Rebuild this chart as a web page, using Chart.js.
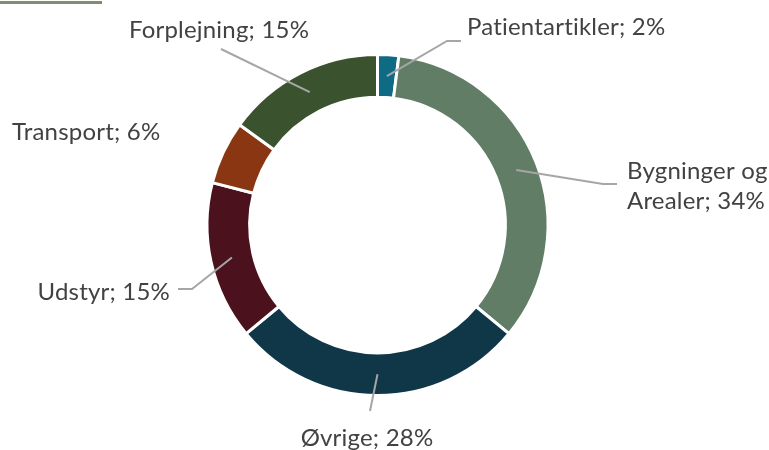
<!DOCTYPE html>
<html>
<head>
<meta charset="utf-8">
<script src="https://cdn.jsdelivr.net/npm/chart.js@4"></script>
<style>
  html, body { margin: 0; padding: 0; background: #fff; }
  #wrap { position: relative; width: 769px; height: 450px; }
  #topRule { position: absolute; left: 0; top: 1px; width: 102px; height: 3px; background: #7f8e6e; }
</style>
</head>
<body>
<div id="wrap">
  <div id="topRule"></div>
  <canvas id="costChart" width="769" height="450"></canvas>
</div>
<script>
const categories = ['Patientartikler', 'Bygninger og Arealer', 'Øvrige', 'Udstyr', 'Transport', 'Forplejning'];
const shares = [2, 34, 28, 15, 6, 15];
const sliceColors = ['#0f6a83', '#617d66', '#0f3748', '#4b121d', '#8a3613', '#3a532e'];

// where each label sits and the bend points of its leader line (the slice end is taken from the arc)
const labelSpots = [
  { x: 467, y: 27, align: 'left', leader: [[461, 41], [447, 41]] },
  { x: 627, y: 171, align: 'left', breakAfter: 'Bygninger og', leader: [[617, 184], [603, 184]] },
  { x: 367, y: 438, align: 'center', leader: [[370, 411]] },
  { x: 170, y: 292, align: 'right', leader: [[178, 289], [192, 289]] },
  { x: 12, y: 132, align: 'left', leader: null },
  { x: 219, y: 30, align: 'center', leader: [[221, 49]] }
];

const sliceLabels = {
  id: 'sliceLabels',
  afterDatasetsDraw(chart) {
    const ctx = chart.ctx;
    const arcs = chart.getDatasetMeta(0).data;
    ctx.save();
    arcs.forEach((arc, i) => {
      const spot = labelSpots[i];
      const p = arc.getProps(['x', 'y', 'startAngle', 'endAngle', 'innerRadius', 'outerRadius'], true);
      const mid = (p.startAngle + p.endAngle) / 2;
      const r = (p.innerRadius + p.outerRadius) / 2;
      const ax = p.x + Math.cos(mid) * r;
      const ay = p.y + Math.sin(mid) * r;

      if (spot.leader) {
        ctx.strokeStyle = '#a6a6a6';
        ctx.lineWidth = 2;
        ctx.beginPath();
        ctx.moveTo(spot.leader[0][0], spot.leader[0][1]);
        spot.leader.slice(1).forEach(pt => ctx.lineTo(pt[0], pt[1]));
        ctx.lineTo(ax, ay);
        ctx.stroke();
      }

      const full = categories[i] + '; ' + shares[i] + '%';
      let lines = [full];
      if (spot.breakAfter && full.startsWith(spot.breakAfter)) {
        lines = [spot.breakAfter, full.slice(spot.breakAfter.length).trim()];
      }
      ctx.fillStyle = '#424242';
      ctx.font = '24px Lato';
      ctx.letterSpacing = '0.2px'; // also keeps "ti" from becoming a ligature
      ctx.textAlign = spot.align;
      ctx.textBaseline = 'middle';
      lines.forEach((t, k) => ctx.fillText(t, spot.x, spot.y + k * 30));
    });
    ctx.restore();
  }
};

new Chart(document.getElementById('costChart'), {
  type: 'doughnut',
  data: {
    labels: categories,
    datasets: [{
      data: shares,
      backgroundColor: sliceColors,
      borderColor: '#ffffff',
      borderWidth: 3
    }]
  },
  options: {
    responsive: false,
    animation: false,
    cutout: '75%',
    layout: { padding: { top: 53, bottom: 53, left: 0, right: 14 } },
    plugins: {
      legend: { display: false },
      tooltip: { enabled: false }
    }
  },
  plugins: [sliceLabels]
});
</script>
</body>
</html>
